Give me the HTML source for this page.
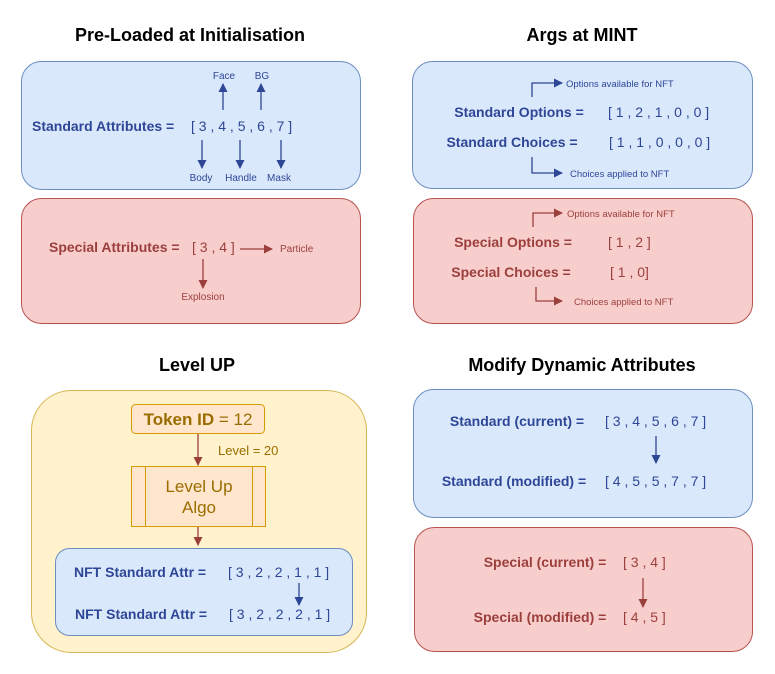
<!DOCTYPE html>
<html><head><meta charset="utf-8"><style>
html,body{margin:0;padding:0;background:#fff;}
svg{display:block;font-family:"Liberation Sans",Arial,sans-serif;}
.b{fill:#2e4696;}
.r{fill:#9b3f3d;}
.bb{font-weight:bold;font-size:14px;}
.n{font-size:14px;}
.s{font-size:10px;}
.t{font-weight:bold;font-size:18px;fill:#000;}
</style></head><body>
<svg width="775" height="674" viewBox="0 0 775 674">
<defs>
<marker id="ab" markerWidth="9" markerHeight="9" refX="8" refY="4.5" orient="auto" markerUnits="userSpaceOnUse"><path d="M0,0 L9,4.5 L0,9 z" fill="#2e4696"/></marker>
<marker id="ar" markerWidth="9" markerHeight="9" refX="8" refY="4.5" orient="auto" markerUnits="userSpaceOnUse"><path d="M0,0 L9,4.5 L0,9 z" fill="#9b3f3d"/></marker>
</defs>
<text class="t" x="190" y="41" text-anchor="middle">Pre-Loaded at Initialisation</text>
<text class="t" x="582" y="41" text-anchor="middle">Args at MINT</text>
<text class="t" x="197" y="371" text-anchor="middle">Level UP</text>
<text class="t" x="582" y="371" text-anchor="middle">Modify Dynamic Attributes</text>

<rect x="21.5" y="61.5" width="339" height="128" rx="20" fill="#dae8fc" stroke="#6c8ebf"/>
<text class="b bb" x="32" y="131">Standard Attributes =</text>
<text class="b n" x="191" y="131">[ 3 , 4 , 5 , 6 , 7 ]</text>
<g stroke="#2e4696" stroke-width="1.3" fill="none">
<line x1="223" y1="110" x2="223" y2="84" marker-end="url(#ab)"/>
<line x1="261" y1="110" x2="261" y2="84" marker-end="url(#ab)"/>
<line x1="202" y1="140" x2="202" y2="168" marker-end="url(#ab)"/>
<line x1="240" y1="140" x2="240" y2="168" marker-end="url(#ab)"/>
<line x1="281" y1="140" x2="281" y2="168" marker-end="url(#ab)"/>
</g>
<g class="b s" text-anchor="middle">
<text x="224" y="79">Face</text><text x="262" y="79">BG</text>
<text x="201" y="181">Body</text><text x="241" y="181">Handle</text><text x="279" y="181">Mask</text>
</g>

<rect x="21.5" y="198.5" width="339" height="125" rx="20" fill="#f8cecc" stroke="#b85450"/>
<text class="r bb" x="49" y="252">Special Attributes =</text>
<text class="r n" x="192" y="252">[ 3 , 4 ]</text>
<g stroke="#9b3f3d" stroke-width="1.3" fill="none">
<line x1="240" y1="249" x2="272" y2="249" marker-end="url(#ar)"/>
<line x1="203" y1="259" x2="203" y2="288" marker-end="url(#ar)"/>
</g>
<text class="r s" x="280" y="252">Particle</text>
<text class="r s" x="203" y="300" text-anchor="middle">Explosion</text>

<rect x="412.5" y="61.5" width="340" height="127" rx="20" fill="#dae8fc" stroke="#6c8ebf"/>
<g stroke="#2e4696" stroke-width="1.3" fill="none">
<polyline points="532,97 532,83 562,83" marker-end="url(#ab)"/>
<polyline points="532,157 532,173 562,173" marker-end="url(#ab)"/>
</g>
<text class="b" x="566" y="87" font-size="9.5">Options available for NFT</text>
<text class="b" x="570" y="177" font-size="9.5">Choices applied to NFT</text>
<text class="b bb" x="519" y="117" text-anchor="middle">Standard Options =</text>
<text class="b n" x="608" y="117">[ 1 , 2 , 1 , 0 , 0 ]</text>
<text class="b bb" x="512" y="147" text-anchor="middle">Standard Choices =</text>
<text class="b n" x="609" y="147">[ 1 , 1 , 0 , 0 , 0 ]</text>

<rect x="413.5" y="198.5" width="339" height="125" rx="20" fill="#f8cecc" stroke="#b85450"/>
<g stroke="#9b3f3d" stroke-width="1.3" fill="none">
<polyline points="533,227 533,213 562,213" marker-end="url(#ar)"/>
<polyline points="536,287 536,301 562,301" marker-end="url(#ar)"/>
</g>
<text class="r" x="567" y="217" font-size="9.5">Options available for NFT</text>
<text class="r" x="574" y="305" font-size="9.5">Choices applied to NFT</text>
<text class="r bb" x="513" y="247" text-anchor="middle">Special Options =</text>
<text class="r n" x="608" y="247">[ 1 , 2 ]</text>
<text class="r bb" x="511" y="277" text-anchor="middle">Special Choices =</text>
<text class="r n" x="610" y="277">[ 1 , 0]</text>

<rect x="31.5" y="390.5" width="335" height="262" rx="40" fill="#fff2cc" stroke="#d6b656"/>
<rect x="131.5" y="404.5" width="133" height="29" rx="4" fill="#ffe6cc" stroke="#d79b00"/>
<text x="198" y="425" text-anchor="middle" font-size="17" fill="#9a6d00"><tspan font-weight="bold">Token ID</tspan> = 12</text>
<g stroke="#9b3f3d" stroke-width="1.3" fill="none">
<line x1="198" y1="434" x2="198" y2="465" marker-end="url(#ar)"/>
<line x1="198" y1="526" x2="198" y2="545" marker-end="url(#ar)"/>
</g>
<text x="218" y="455" font-size="13" fill="#9a6d00">Level = 20</text>
<rect x="131.5" y="466.5" width="134" height="60" fill="#ffe6cc" stroke="#d79b00"/>
<line x1="145.5" y1="466" x2="145.5" y2="527" stroke="#d79b00"/>
<line x1="252.5" y1="466" x2="252.5" y2="527" stroke="#d79b00"/>
<text x="199" y="492" text-anchor="middle" font-size="17" fill="#9a6d00">Level Up</text>
<text x="199" y="513" text-anchor="middle" font-size="17" fill="#9a6d00">Algo</text>
<rect x="55.5" y="548.5" width="297" height="87" rx="14" fill="#dae8fc" stroke="#6c8ebf"/>
<text class="b bb" x="74" y="577">NFT Standard Attr =</text>
<text class="b n" x="228" y="577">[ 3 , 2 , 2 , 1 , 1 ]</text>
<line x1="299" y1="583" x2="299" y2="605" stroke="#2e4696" stroke-width="1.3" marker-end="url(#ab)"/>
<text class="b bb" x="75" y="619">NFT Standard Attr =</text>
<text class="b n" x="229" y="619">[ 3 , 2 , 2 , 2 , 1 ]</text>

<rect x="413.5" y="389.5" width="339" height="128" rx="20" fill="#dae8fc" stroke="#6c8ebf"/>
<text class="b bb" x="517" y="426" text-anchor="middle">Standard (current) =</text>
<text class="b n" x="605" y="426">[ 3 , 4 , 5 , 6 , 7 ]</text>
<line x1="656" y1="436" x2="656" y2="463" stroke="#2e4696" stroke-width="1.3" marker-end="url(#ab)"/>
<text class="b bb" x="514" y="486" text-anchor="middle">Standard (modified) =</text>
<text class="b n" x="605" y="486">[ 4 , 5 , 5 , 7 , 7 ]</text>

<rect x="414.5" y="527.5" width="338" height="124" rx="20" fill="#f8cecc" stroke="#b85450"/>
<text class="r bb" x="545" y="567" text-anchor="middle">Special (current) =</text>
<text class="r n" x="623" y="567">[ 3 , 4 ]</text>
<line x1="643" y1="578" x2="643" y2="607" stroke="#9b3f3d" stroke-width="1.3" marker-end="url(#ar)"/>
<text class="r bb" x="540" y="622" text-anchor="middle">Special (modified) =</text>
<text class="r n" x="623" y="622">[ 4 , 5 ]</text>
</svg>
</body></html>
